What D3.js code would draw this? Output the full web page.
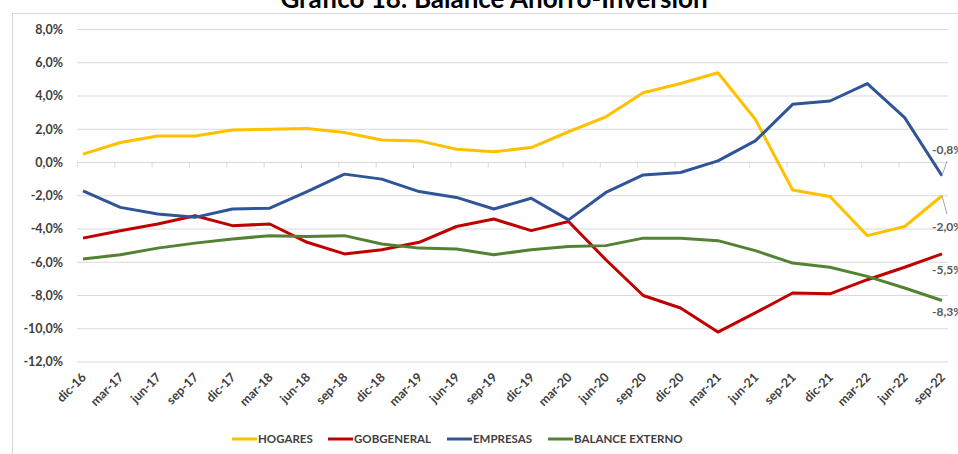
<!DOCTYPE html>
<html>
<head>
<meta charset="utf-8">
<script src="https://d3js.org/d3.v7.min.js"></script>
<style>
body { margin: 0; background: #fff; }
text { font-family: Lato, "Open Sans", sans-serif; }
</style>
</head>
<body>
<svg width="958" height="454"></svg>
<script>
// trimestres
var periods = ["dic-16","mar-17","jun-17","sep-17","dic-17","mar-18","jun-18","sep-18","dic-18","mar-19",
  "jun-19","sep-19","dic-19","mar-20","jun-20","sep-20","dic-20","mar-21","jun-21","sep-21",
  "dic-21","mar-22","jun-22","sep-22"];

var hogares = [0.5,1.2,1.6,1.6,1.95,2.0,2.05,1.8,1.35,1.3,0.8,0.65,0.9,1.85,2.75,4.2,4.75,5.4,2.6,-1.65,-2.05,-4.4,-3.85,-2.0];
var gobgeneral = [-4.55,-4.1,-3.7,-3.2,-3.8,-3.7,-4.8,-5.5,-5.25,-4.8,-3.85,-3.4,-4.1,-3.55,-5.85,-8.0,-8.75,-10.2,-9.05,-7.85,-7.9,-7.05,-6.3,-5.5];
var empresas = [-1.7,-2.7,-3.1,-3.3,-2.8,-2.75,-1.75,-0.7,-1.0,-1.75,-2.1,-2.8,-2.15,-3.45,-1.8,-0.75,-0.6,0.1,1.3,3.5,3.7,4.75,2.7,-0.8];
var externo = [-5.8,-5.55,-5.15,-4.85,-4.6,-4.4,-4.45,-4.4,-4.9,-5.15,-5.2,-5.55,-5.25,-5.05,-5.0,-4.55,-4.55,-4.7,-5.3,-6.05,-6.3,-6.85,-7.55,-8.3];

var yTicks = [8,6,4,2,0,-2,-4,-6,-8,-10,-12];
var seriesNames = ["HOGARES","GOBGENERAL","EMPRESAS","BALANCE EXTERNO"];
var seriesColors = ["#FFC000","#C00000","#2F5597","#548235"];
var endLabels = ["-2,0%","-5,5%","-0,8%","-8,3%"];

var series = [hogares, gobgeneral, empresas, externo];

var svg = d3.select("svg");
var fmt = function(v) { return d3.format(".1f")(v).replace(".", ",").replace("−", "-") + "%"; };

var x = d3.scalePoint().domain(periods).range([83, 942]);
var y = d3.scaleLinear().domain([-12, 8]).range([362, 29.5]);
var step = x.step();

// marco
svg.append("rect")
  .attr("x", 12.5).attr("y", 13.5)
  .attr("width", 960).attr("height", 460)
  .attr("fill", "none").attr("stroke", "#d9d9d9");

// titulo (cortado arriba, como en el original)
svg.append("text")
  .attr("x", 494).attr("y", 8)
  .attr("text-anchor", "middle")
  .style("font-size", "26px").style("font-weight", "bold")
  .attr("fill", "#000")
  .text("Gráfico 18: Balance Ahorro-Inversión");

// lineas de grilla + etiquetas eje y
svg.append("g").selectAll("line")
  .data(yTicks).enter().append("line")
  .attr("x1", 77).attr("x2", 948)
  .attr("y1", function(d) { return y(d); })
  .attr("y2", function(d) { return y(d); })
  .attr("stroke", "#d9d9d9").attr("stroke-width", 1);

svg.append("g").selectAll("text")
  .data(yTicks).enter().append("text")
  .attr("x", 63)
  .attr("y", function(d) { return y(d); })
  .attr("dy", "0.35em")
  .attr("text-anchor", "end")
  .style("font-size", "12.5px").style("font-weight", "bold")
  .attr("fill", "#404040")
  .text(function(d) { return fmt(d); });

// marcas sobre la linea de cero
svg.append("g").selectAll("line")
  .data(periods).enter().append("line")
  .attr("x1", function(d) { return x(d) - step * 0.15; })
  .attr("x2", function(d) { return x(d) - step * 0.15; })
  .attr("y1", y(0)).attr("y2", y(0) + 5)
  .attr("stroke", "#d9d9d9");

// etiquetas eje x
svg.append("g").selectAll("text")
  .data(periods).enter().append("text")
  .attr("transform", function(d) { return "translate(" + (x(d) + 4) + ",378) rotate(-45)"; })
  .attr("text-anchor", "end")
  .style("font-size", "12.5px").style("font-weight", "bold")
  .attr("fill", "#404040")
  .text(function(d) { return d; });

// series
var line = d3.line()
  .x(function(d, i) { return x(periods[i]); })
  .y(function(d) { return y(d); });

series.forEach(function(s, k) {
  svg.append("path")
    .datum(s)
    .attr("d", line)
    .attr("fill", "none")
    .attr("stroke", seriesColors[k])
    .attr("stroke-width", 3)
    .attr("stroke-linejoin", "round");
});

// etiquetas del ultimo dato
var last = periods[periods.length - 1];
var labelY = [227, 270, 150, 312];
var labelG = svg.append("g");
series.forEach(function(s, k) {
  labelG.append("text")
    .attr("x", x(last) - 10)
    .attr("y", labelY[k])
    .attr("dy", "0.35em")
    .style("font-size", "12px").style("font-weight", "bold")
    .attr("fill", "#595959")
    .text(endLabels[k]);
});
// lineas guia
labelG.append("line")
  .attr("x1", x(last)).attr("y1", y(empresas[empresas.length - 1]))
  .attr("x2", x(last) + 5).attr("y2", 161)
  .attr("stroke", "#a6a6a6");
labelG.append("line")
  .attr("x1", x(last)).attr("y1", y(hogares[hogares.length - 1]))
  .attr("x2", x(last) + 5).attr("y2", 214)
  .attr("stroke", "#a6a6a6");

// leyenda
var legendX = [232, 328, 447, 548];
var legend = svg.append("g");
seriesNames.forEach(function(n, k) {
  legend.append("line")
    .attr("x1", legendX[k]).attr("x2", legendX[k] + 25)
    .attr("y1", 439).attr("y2", 439)
    .attr("stroke", seriesColors[k]).attr("stroke-width", 3);
  legend.append("text")
    .attr("x", legendX[k] + 26).attr("y", 439)
    .attr("dy", "0.35em")
    .style("font-size", "11.5px").style("font-weight", "bold")
    .attr("fill", "#404040")
    .text(n);
});
</script>
</body>
</html>
